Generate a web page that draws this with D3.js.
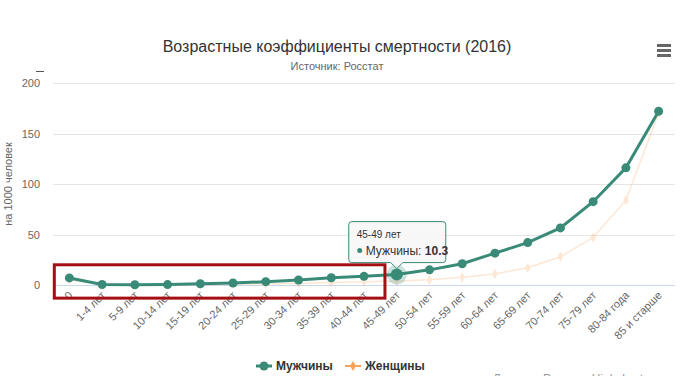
<!DOCTYPE html>
<html>
<head>
<meta charset="utf-8">
<script src="https://cdn.jsdelivr.net/npm/d3@7"></script>
<style>
  body { margin: 0; background: #fff; }
  svg { font-family: "Liberation Sans", Arial, sans-serif; display: block; }
</style>
</head>
<body>
<div id="chart"></div>
<script>
// возрастные группы
const categories = ["0", "1-4 лет", "5-9 лет", "10-14 лет", "15-19 лет", "20-24 лет", "25-29 лет",
  "30-34 лет", "35-39 лет", "40-44 лет", "45-49 лет", "50-54 лет", "55-59 лет", "60-64 лет",
  "65-69 лет", "70-74 лет", "75-79 лет", "80-84 года", "85 и старше"];

// на 1000 человек
const men = [7.0, 0.5, 0.3, 0.4, 1.2, 2.0, 3.3, 5.0, 7.2, 8.6, 10.3, 15.0, 21.0, 31.5, 42.0, 56.5, 82.5, 116, 172];
const women = [5.5, 0.4, 0.2, 0.3, 0.6, 0.7, 1.0, 1.7, 2.4, 3.2, 4.0, 5.2, 7.6, 11, 17, 28, 47, 84, 170];

const yTicks = [0, 50, 100, 150, 200];
const hoverIndex = 10;

const W = 700, H = 376;
const menColor = "#3a8a78", womenColor = "#f7a35c";

const svg = d3.select("#chart").append("svg")
  .attr("width", W).attr("height", H);

const x = d3.scalePoint().domain(categories).range([53, 675]).padding(0.5);
const y = d3.scaleLinear().domain([0, 200]).range([285, 83]);
const step = x.step();

// title
svg.append("text").attr("x", 337).attr("y", 52).attr("text-anchor", "middle")
  .attr("font-size", 16).attr("fill", "#333")
  .text("Возрастные коэффициенты смертности (2016)");
svg.append("text").attr("x", 337).attr("y", 70).attr("text-anchor", "middle")
  .attr("font-size", 11).attr("fill", "#666")
  .text("Источник: Росстат");

// menu icon
[0, 5, 10].forEach(d => {
  svg.append("rect").attr("x", 657).attr("y", 44 + d).attr("width", 14).attr("height", 3)
    .attr("fill", "#666");
});

// grid
svg.append("g").selectAll("line").data(yTicks.filter(d => d > 0)).join("line")
  .attr("x1", 53).attr("x2", 675)
  .attr("y1", d => Math.round(y(d)) + 0.5).attr("y2", d => Math.round(y(d)) + 0.5)
  .attr("stroke", "#e6e6e6");
svg.append("line").attr("x1", 53).attr("x2", 675)
  .attr("y1", Math.round(y(0)) + 0.5).attr("y2", Math.round(y(0)) + 0.5)
  .attr("stroke", "#ccd6eb");

// y labels
svg.append("g").selectAll("text").data(yTicks).join("text")
  .attr("x", 40).attr("y", d => y(d) + 4).attr("text-anchor", "end")
  .attr("font-size", 11).attr("fill", "#666").text(d => d);
svg.append("line").attr("x1", 36).attr("x2", 44).attr("y1", 71.5).attr("y2", 71.5)
  .attr("stroke", "#555");
svg.append("text").attr("transform", "translate(12," + 184 + ") rotate(-90)")
  .attr("text-anchor", "middle").attr("font-size", 11).attr("fill", "#666")
  .text("на 1000 человек");

// x labels
svg.append("g").selectAll("text").data(categories).join("text")
  .attr("transform", d => "translate(" + (x(d) + 4) + "," + 296 + ") rotate(-45)")
  .attr("text-anchor", "end").attr("font-size", 11).attr("fill", "#666")
  .text(d => d);

const line = d3.line().x((d, i) => x(categories[i])).y(d => y(d));

// women (inactive)
const gw = svg.append("g").attr("opacity", 0.25);
gw.append("path").datum(women).attr("d", line).attr("fill", "none")
  .attr("stroke", womenColor).attr("stroke-width", 1.5);
gw.selectAll("path.m").data(women).join("path").attr("class", "m")
  .attr("d", d3.symbol(d3.symbolDiamond, 30)())
  .attr("transform", (d, i) => "translate(" + x(categories[i]) + "," + y(d) + ")")
  .attr("fill", womenColor);

// men
svg.append("path").datum(men).attr("d", line).attr("fill", "none")
  .attr("stroke", menColor).attr("stroke-width", 3);
svg.append("circle").attr("cx", x(categories[hoverIndex])).attr("cy", y(men[hoverIndex]))
  .attr("r", 10).attr("fill", menColor).attr("opacity", 0.25);
svg.append("g").selectAll("circle").data(men).join("circle")
  .attr("cx", (d, i) => x(categories[i])).attr("cy", d => y(d))
  .attr("r", (d, i) => i === hoverIndex ? 6 : 4.5)
  .attr("fill", menColor);

// annotation box
const rx0 = x(categories[0]) - step * 0.46, rx1 = x(categories[9]) + step * 0.64;
svg.append("rect").attr("x", rx0).attr("y", y(20))
  .attr("width", rx1 - rx0).attr("height", y(-13) - y(20))
  .attr("fill", "none").attr("stroke", "#a50e12").attr("stroke-width", 3);

// tooltip
const px = x(categories[hoverIndex]), py = y(men[hoverIndex]);
const tw = 97, th = 41, tx = px - 48, ty = py - 53;
const tip = svg.append("g");
tip.append("path")
  .attr("d", `M${tx + 3},${ty} H${tx + tw - 3} Q${tx + tw},${ty} ${tx + tw},${ty + 3} V${ty + th - 3} Q${tx + tw},${ty + th} ${tx + tw - 3},${ty + th} H${px + 6} L${px},${ty + th + 6} L${px - 6},${ty + th} H${tx + 3} Q${tx},${ty + th} ${tx},${ty + th - 3} V${ty + 3} Q${tx},${ty} ${tx + 3},${ty} Z`)
  .attr("fill", "rgba(247,247,247,0.9)").attr("stroke", menColor).attr("stroke-width", 1);
tip.append("text").attr("x", tx + 8).attr("y", ty + 16).attr("font-size", 10).attr("fill", "#333")
  .text(categories[hoverIndex]);
tip.append("circle").attr("cx", tx + 11).attr("cy", ty + 29).attr("r", 2.5).attr("fill", menColor);
const t2 = tip.append("text").attr("x", tx + 17).attr("y", ty + 33).attr("font-size", 12).attr("fill", "#333");
t2.append("tspan").text("Мужчины: ");
t2.append("tspan").attr("font-weight", "bold").text(men[hoverIndex]);

// legend
const lg = svg.append("g").attr("font-size", 12).attr("font-weight", "bold").attr("fill", "#333");
lg.append("line").attr("x1", 256).attr("x2", 272).attr("y1", 366).attr("y2", 366)
  .attr("stroke", menColor).attr("stroke-width", 3);
lg.append("circle").attr("cx", 264).attr("cy", 366).attr("r", 4.5).attr("fill", menColor);
lg.append("text").attr("x", 276).attr("y", 370).text("Мужчины");
lg.append("line").attr("x1", 345).attr("x2", 361).attr("y1", 366).attr("y2", 366)
  .attr("stroke", womenColor).attr("stroke-width", 2);
lg.append("path").attr("d", d3.symbol(d3.symbolDiamond, 30)())
  .attr("transform", "translate(353,366)").attr("fill", womenColor);
lg.append("text").attr("x", 365).attr("y", 370).text("Женщины");

// credits (cut off at the bottom, as in the reference)
svg.append("text").attr("x", 675).attr("y", 383).attr("text-anchor", "end")
  .attr("font-size", 12).attr("fill", "#999").text("Данные: Росстат, Highcharts.com");
</script>
</body>
</html>
